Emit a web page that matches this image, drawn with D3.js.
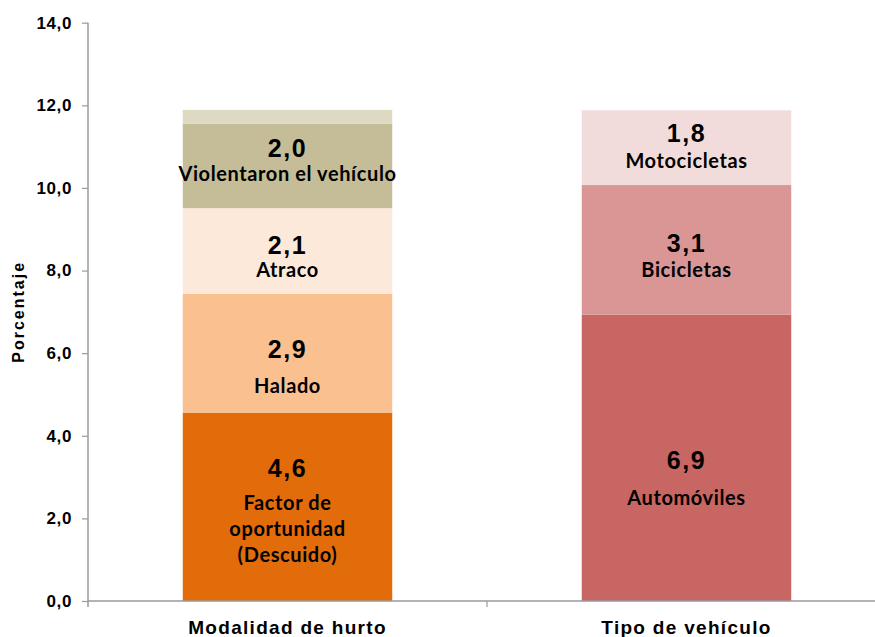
<!DOCTYPE html>
<html>
<head>
<meta charset="utf-8">
<script src="https://cdn.jsdelivr.net/npm/d3@7"></script>
<style>
  html, body { margin: 0; padding: 0; background: #fff; }
  svg { display: block; }
</style>
</head>
<body>
<svg id="chart" width="875" height="637"></svg>
<script>
// ---------- DATA ----------
const categories = ["Modalidad de hurto", "Tipo de vehículo"];
const modalidadNames = ["Factor de oportunidad (Descuido)", "Halado", "Atraco", "Violentaron el vehículo", ""];
const modalidadValues = [4.56, 2.88, 2.07, 2.049, 0.33];
const tipoNames = ["Automóviles", "Bicicletas", "Motocicletas"];
const tipoValues = [6.93, 3.14, 1.81];
const yTickValues = [0, 2, 4, 6, 8, 10, 12, 14];
const yAxisTitle = "Porcentaje";

// ---------- STYLE / LAYOUT ----------
const modalidadColors = ["#E36C0A", "#FAC090", "#FDE9D9", "#C4BD97", "#DDD9C3"];
const tipoColors = ["#C86663", "#DA9694", "#F2DCDB"];
const nameLines = {
  "Factor de oportunidad (Descuido)": ["Factor de", "oportunidad", "(Descuido)"]
};
// offsets (px) of value baseline and first name baseline from segment centre
const labelLayout = {
  "Factor de oportunidad (Descuido)": [-30, 3.2],
  "Halado": [5, 40],
  "Atraco": [3.3, 26.3],
  "Violentaron el vehículo": [-9.2, 15.1],
  "Automóviles": [11.4, 47.1],
  "Bicicletas": [2.4, 27.4],
  "Motocicletas": [-5.9, 20.7]
};
const nameLineHeight = 26;
const axisColor = "#9a9a9a";

const svg = d3.select("#chart");

const y = d3.scaleLinear().domain([0, 14]).range([601, 22.7]);
const x = d3.scaleBand().domain(categories).range([88, 886])
  .paddingInner(0.475).paddingOuter(0.2375);

const fmt = v => d3.format(".1f")(v).replace(".", ",");

const stacks = [
  { cat: categories[0], names: modalidadNames, values: modalidadValues, colors: modalidadColors },
  { cat: categories[1], names: tipoNames, values: tipoValues, colors: tipoColors }
];

stacks.forEach(s => {
  let acc = 0;
  const segs = s.values.map((v, i) => {
    const seg = { name: s.names[i], value: v, y0: acc, y1: acc + v, color: s.colors[i] };
    acc += v;
    return seg;
  });
  const g = svg.append("g");
  g.selectAll("rect").data(segs).join("rect")
    .attr("x", x(s.cat))
    .attr("width", x.bandwidth())
    .attr("y", d => y(d.y1))
    .attr("height", d => y(d.y0) - y(d.y1))
    .attr("fill", d => d.color);

  const cx = x(s.cat) + x.bandwidth() / 2;
  segs.filter(d => d.name).forEach(d => {
    const c = (y(d.y0) + y(d.y1)) / 2;
    const lay = labelLayout[d.name] || [-6, 20];
    g.append("text")
      .attr("x", cx).attr("y", c + lay[0])
      .attr("text-anchor", "middle")
      .attr("font-family", "'Liberation Sans', Arial, sans-serif")
      .attr("font-weight", "bold")
      .attr("font-size", 25)
      .attr("letter-spacing", 1.5)
      .attr("fill", "#000")
      .text(fmt(d.value));
    const lines = nameLines[d.name] || [d.name];
    lines.forEach((ln, k) => {
      g.append("text")
        .attr("x", cx).attr("y", c + lay[1] + k * nameLineHeight)
        .attr("text-anchor", "middle")
        .attr("font-family", "Lato, 'Open Sans', sans-serif")
        .attr("font-weight", "bold")
        .attr("font-size", 20)
        .attr("letter-spacing", 0.6)
        .attr("fill", "#000")
        .text(ln);
    });
  });
});

// ---------- AXES ----------
const yAxis = d3.axisLeft(y).tickValues(yTickValues).tickSize(6).tickPadding(10)
  .tickFormat(fmt);
const yg = svg.append("g").attr("transform", "translate(88,0)").call(yAxis);
yg.select(".domain").remove();
yg.selectAll(".tick line").attr("stroke", axisColor).attr("stroke-width", 1.2);
yg.selectAll(".tick text")
  .attr("font-family", "'Liberation Sans', Arial, sans-serif")
  .attr("font-weight", "bold")
  .attr("font-size", 17)
  .attr("letter-spacing", 0.6)
  .attr("fill", "#000");
// y-axis line (extends slightly below zero)
svg.append("line")
  .attr("x1", 88).attr("x2", 88)
  .attr("y1", y(14)).attr("y2", y(0) + 6)
  .attr("stroke", axisColor).attr("stroke-width", 1.5);

// x-axis
svg.append("line")
  .attr("x1", 88).attr("x2", 886)
  .attr("y1", y(0)).attr("y2", y(0))
  .attr("stroke", axisColor).attr("stroke-width", 1.5);
const boundaries = [88 + x.step(), 88 + 2 * x.step()];
svg.selectAll(".xtick").data(boundaries).join("line")
  .attr("class", "xtick")
  .attr("x1", d => d).attr("x2", d => d)
  .attr("y1", y(0)).attr("y2", y(0) + 6)
  .attr("stroke", axisColor).attr("stroke-width", 1.2);
svg.selectAll(".xlabel").data(categories).join("text")
  .attr("class", "xlabel")
  .attr("x", d => x(d) + x.bandwidth() / 2)
  .attr("y", 634)
  .attr("text-anchor", "middle")
  .attr("font-family", "'Liberation Sans', Arial, sans-serif")
  .attr("font-weight", "bold")
  .attr("font-size", 19)
  .attr("letter-spacing", 1.3)
  .attr("fill", "#000")
  .text(d => d);

// y title
svg.append("text")
  .attr("transform", `translate(24,${(y(0) + y(14)) / 2}) rotate(-90)`)
  .attr("text-anchor", "middle")
  .attr("font-family", "'Liberation Sans', Arial, sans-serif")
  .attr("font-weight", "bold")
  .attr("font-size", 16)
  .attr("letter-spacing", 2)
  .attr("fill", "#000")
  .text(yAxisTitle);
</script>
</body>
</html>
